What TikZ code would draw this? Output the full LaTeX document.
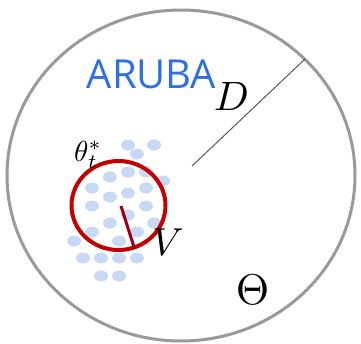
\documentclass[tikz,border=0pt]{standalone}
\usepackage{amsmath,amssymb}
\usepackage{graphicx}
\usepackage{xcolor}
\usepackage{fontspec}
\newfontfamily\labelfont{Open Sans}
\usepackage{tikz}
\usetikzlibrary{shapes.geometric, positioning, calc}

\definecolor{ringgray}{HTML}{9A9A9A}
\definecolor{arubablue}{HTML}{2F6FE6}
\definecolor{ballred}{HTML}{C40000}
\definecolor{radred}{HTML}{9E0010}
\definecolor{sampleblue}{HTML}{C7D9F5}

\begin{document}
\begin{tikzpicture}[
  x=1pt, y=-1pt,
  every node/.style={inner sep=0pt},
  paramspace/.style={ellipse, draw=ringgray, line width=3pt,
                 minimum width=348pt, minimum height=331pt},
  ball/.style={ellipse, draw=ballred, line width=4pt,
               minimum width=94pt, minimum height=89pt},
  sample/.style={ellipse, fill=sampleblue, minimum width=14pt,
                 minimum height=11pt},
]
  \useasboundingbox (0,0) rectangle (361,343);

  % ── Samples (blue) ───────────────────────────────
  \foreach \px/\py [count=\i] in {128/145, 154/145, 137/154,
      110/177, 128/172, 146/172, 163/181,
      92/188, 128/193, 146/188,
      92/206, 110/197, 146/206,
      128/215, 110/223, 154/223,
      92/232, 137/232, 74/241, 119/241,
      83/258, 101/258, 119/258, 137/258,
      101/276, 119/276}
    \node[sample] (s\i) at (\px,\py) {};

  % ── Parameter space ──────────────────────────────
  \node[paramspace] (Theta) at (181,175.5) {};
  \coordinate (c0) at (192,166);
  \coordinate (rim) at (305,59);
  \draw[black!65, line width=1pt] (c0) -- (rim);

  % ── Ball around the optimum ─────────────────────
  \node[ball] (B) at (118.5,205.5) {};
  \coordinate (bc) at (121,206);
  \coordinate (brim) at (134,247);
  \draw[radred, line width=3pt] (bc) -- (brim);

  % ── Labels ───────────────────────────────────────
  \node[anchor=base, text=arubablue, font=\labelfont\fontsize{40}{40}\selectfont]
    (aruba) at (151.5,88) {ARUBA};
  \node[anchor=base] (D) at (231.5,110) {\scalebox{4.1}{$D$}};
  \node[anchor=base west] (opt) at (74,161) {\scalebox{2.9}{$\theta_t^*$}};
  \node[anchor=base] (V) at (168,255) {\scalebox{3.9}{$V$}};
  \node[anchor=base] (th) at (252.5,304) {\scalebox{4.3}{$\Theta$}};
\end{tikzpicture}
\end{document}
